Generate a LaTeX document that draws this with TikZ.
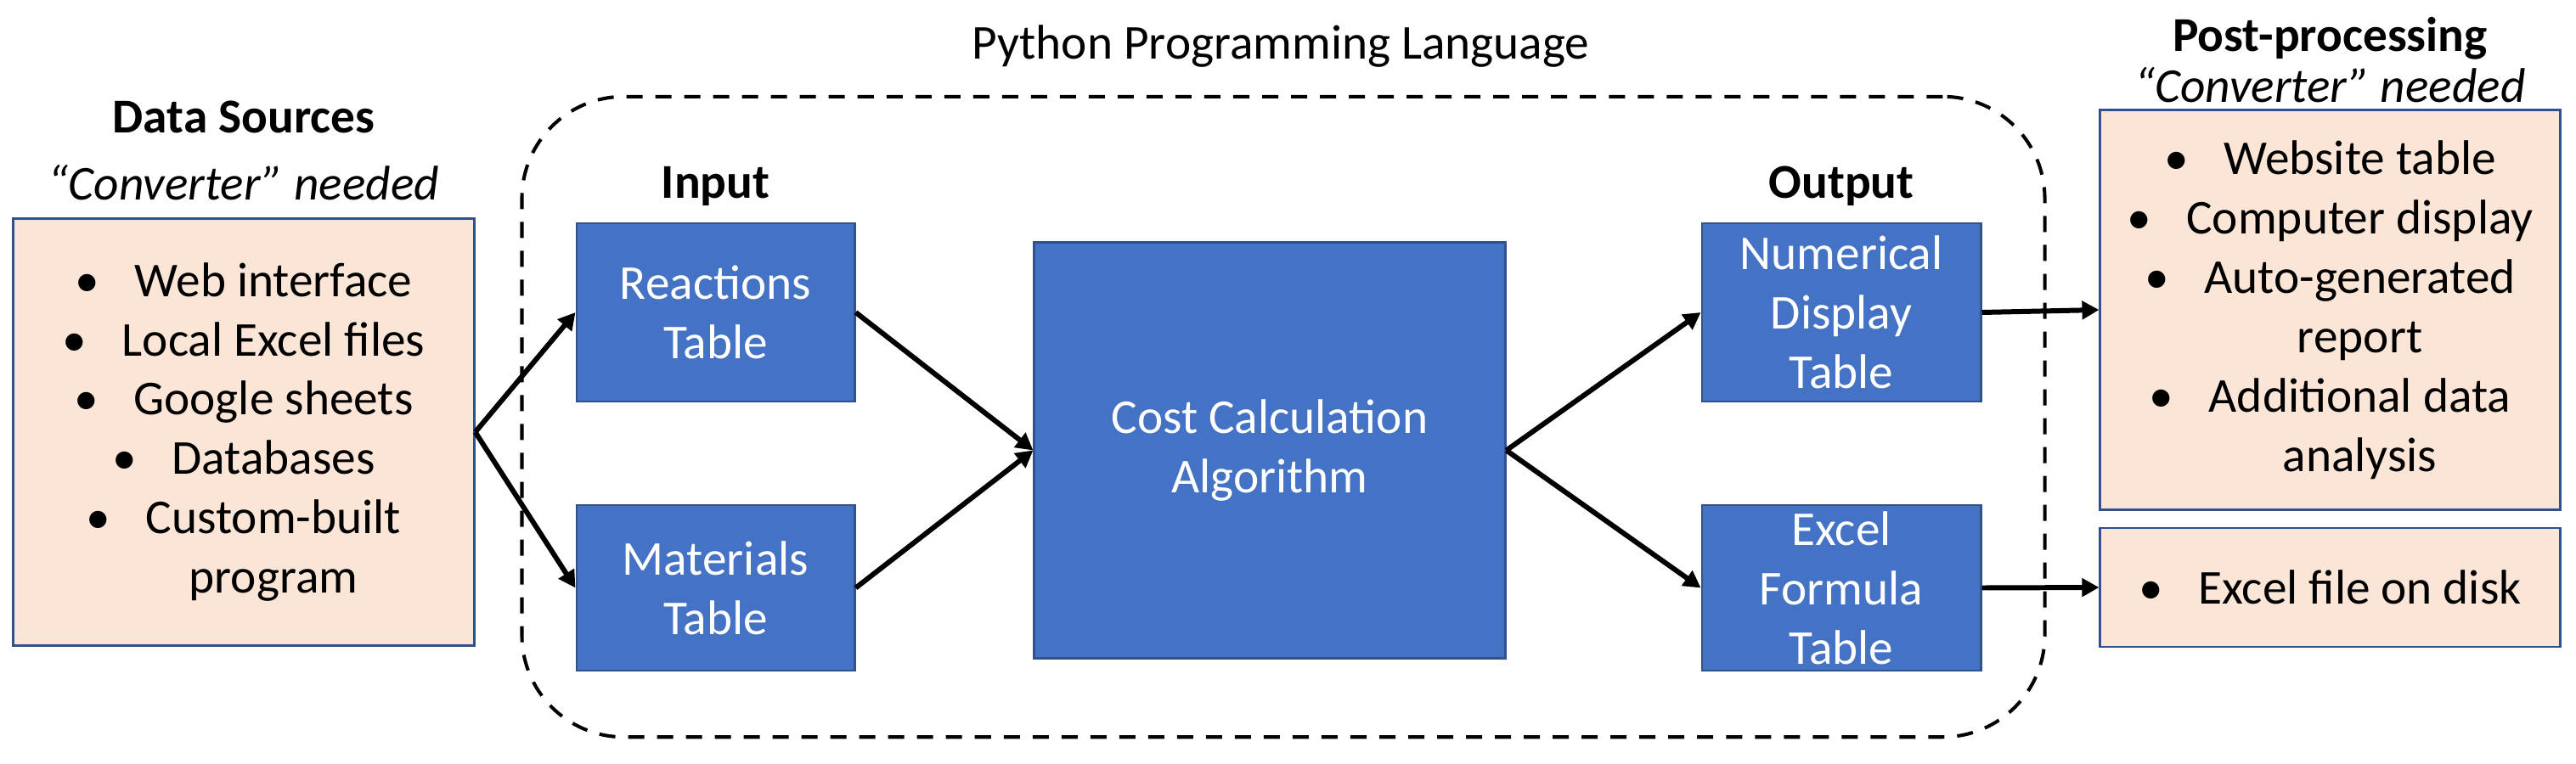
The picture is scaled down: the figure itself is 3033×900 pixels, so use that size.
\documentclass[tikz,border=0pt]{standalone}
\usepackage{fontspec}
\setmainfont{Carlito}
\usetikzlibrary{arrows.meta}
\definecolor{boxblue}{HTML}{4472C4}
\definecolor{boxedge}{HTML}{2F528F}
\definecolor{peach}{HTML}{FBE5D6}
\newcommand{\bulitem}{\makebox[0.7cm][l]{•}}
\begin{document}
\begin{tikzpicture}[x=0.01cm,y=-0.01cm,
  font=\fontsize{16.3}{19.9}\selectfont,
  bluebox/.style={draw=boxedge, line width=0.8pt, fill=boxblue, text=white, align=center, inner sep=0pt},
  peachbox/.style={draw=boxedge, line width=0.8pt, fill=peach, align=center, inner sep=0pt},
  flow/.style={line width=1.7pt, -{Triangle[length=0.2cm,width=0.21cm]}},
  pyframe/.style={draw, line width=1.15pt, dash pattern=on 0.19cm off 0.15cm, rounded corners=1.2cm, inner sep=0pt},
  headtext/.style={font=\fontsize{16.3}{19.9}\selectfont\bfseries},
  notetext/.style={font=\fontsize{16.3}{19.9}\selectfont\itshape}]
\useasboundingbox (0,0) rectangle (3033,900);

\node[pyframe, minimum width=17.92cm, minimum height=7.54cm] (frame) at (1511,491) {};
\node (pylabel) at (1508,55) {Python Programming Language};

\node[headtext] (dstitle) at (287,138) {Data Sources};
\node[notetext] (dsnote) at (287,215) {“Converter” needed};
\node[peachbox, minimum width=5.42cm, minimum height=5.02cm] (data) at (287,509)
  {\bulitem Web interface\\ \bulitem Local Excel files\\ \bulitem Google sheets\\ \bulitem Databases\\ \bulitem Custom-built\\ \hspace*{0.7cm}program};

\node[headtext] (intitle) at (842.5,219) {Input};
\node[bluebox, minimum width=3.27cm, minimum height=2.10cm] (react) at (842.5,368) {Reactions\\Table};
\node[bluebox, minimum width=3.27cm, minimum height=1.95cm] (mat) at (842.5,692.5) {Materials\\Table};

\node[bluebox, minimum width=5.54cm, minimum height=4.89cm] (cost) at (1495,530.5) {Cost Calculation\\Algorithm};

\node[headtext] (outtitle) at (2168,219) {Output};
\node[bluebox, minimum width=3.28cm, minimum height=2.10cm] (num) at (2168,368) {Numerical\\Display\\Table};
\node[bluebox, minimum width=3.28cm, minimum height=1.95cm] (excel) at (2168,692.5) {Excel\\Formula\\Table};

\node[headtext] (pptitle) at (2743.5,45) {Post-processing};
\node[notetext] (ppnote) at (2743.5,100) {“Converter” needed};
\node[peachbox, minimum width=5.41cm, minimum height=4.70cm] (post1) at (2743.5,365)
  {\bulitem Website table\\ \bulitem Computer display\\ \bulitem Auto-generated\\ \hspace*{0.7cm}report\\ \bulitem Additional data\\ \hspace*{0.7cm}analysis};
\node[peachbox, minimum width=5.41cm, minimum height=1.40cm] (post2) at (2743.5,692)
  {\bulitem Excel file on disk};

\draw[flow] (data.east) -- (react.west);
\draw[flow] (data.east) -- (mat.west);
\draw[flow] (react.east) -- (cost.west);
\draw[flow] (mat.east) -- (cost.west);
\draw[flow] (cost.east) -- (num.west);
\draw[flow] (cost.east) -- (excel.west);
\draw[flow] (num.east) -- (post1.west);
\draw[flow] (excel.east) -- (post2.west);
\end{tikzpicture}
\end{document}
